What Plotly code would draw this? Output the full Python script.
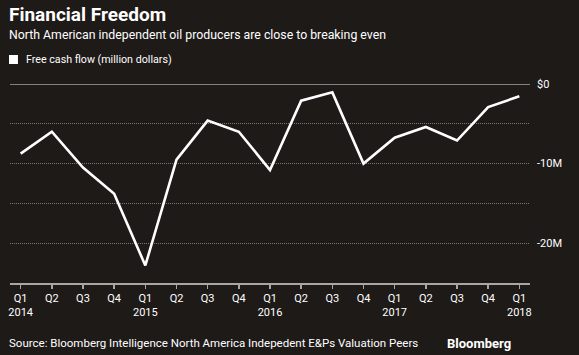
import plotly.graph_objects as go

quarters = ["Q1", "Q2", "Q3", "Q4", "Q1", "Q2", "Q3", "Q4", "Q1", "Q2", "Q3", "Q4",
            "Q1", "Q2", "Q3", "Q4", "Q1"]
years = ["2014", "", "", "", "2015", "", "", "", "2016", "", "", "", "2017", "", "", "", "2018"]
free_cash_flow = [-8.75, -6.0, -10.5, -13.8, -22.8, -9.5, -4.6, -6.0, -10.8,
                  -2.1, -1.05, -10.0, -6.75, -5.4, -7.1, -2.9, -1.55]
y_tick_vals = [0, -5, -10, -15, -20, -25]
y_tick_text = ["$0", "", "-10M", "", "-20M", ""]

x_idx = list(range(len(free_cash_flow)))
x_labels = [q + ("<br>" + y if y else "") for q, y in zip(quarters, years)]

BG = "#1e1a18"
FONT = "Roboto"
W, H = 579, 355
L, R, T, B = 8, 49, 84, 72
PW, PH = W - L - R, H - T - B

def px(x):
    return (x - L) / PW

def py(y):
    return (H - B - y) / PH

fig = go.Figure()
fig.add_trace(go.Scatter(
    x=x_idx, y=free_cash_flow, mode="lines",
    line=dict(color="#ffffff", width=2.6), showlegend=False, hoverinfo="skip"))

fig.add_shape(type="line", xref="paper", x0=0, x1=1, yref="y", y0=0, y1=0,
              line=dict(color="#a9a6a3", width=1.5), layer="below")
fig.add_shape(type="rect", xref="paper", yref="paper",
              x0=px(7), x1=px(16), y0=py(64), y1=py(55),
              fillcolor="#ffffff", line=dict(width=0))

annotations = [
    dict(text="<b>Financial Freedom</b>", x=px(5), y=py(14), xanchor="left", yanchor="middle",
         font=dict(size=19, color="#ffffff", family=FONT)),
    dict(text="North American independent oil producers are close to breaking even",
         x=px(5), y=py(35), xanchor="left", yanchor="middle",
         font=dict(size=12.3, color="#ffffff", family=FONT)),
    dict(text="Free cash flow (million dollars)", x=px(22), y=py(59.5), xanchor="left", yanchor="middle",
         font=dict(size=10.7, color="#ffffff", family=FONT)),
    dict(text="Source: Bloomberg Intelligence North America Indepedent E&Ps Valuation Peers",
         x=px(5), y=py(343), xanchor="left", yanchor="middle",
         font=dict(size=11.5, color="#ffffff", family=FONT)),
    dict(text="<b>Bloomberg</b>", x=px(513), y=py(343), xanchor="right", yanchor="middle",
         font=dict(size=13, color="#ffffff", family=FONT)),
]
for a in annotations:
    a.update(xref="paper", yref="paper", showarrow=False)

fig.update_layout(
    width=W, height=H, margin=dict(l=L, r=R, t=T, b=B),
    paper_bgcolor=BG, plot_bgcolor=BG,
    annotations=annotations,
    font=dict(family=FONT, color="#ffffff", size=11),
    xaxis=dict(
        range=[-0.342, 16.342], tickmode="array", tickvals=x_idx, ticktext=x_labels,
        showgrid=False, zeroline=False, showline=True, linecolor="#a9a6a3", linewidth=1.5,
        ticks="outside", ticklen=4, tickcolor="#a9a6a3", tickwidth=1.5,
        tickfont=dict(size=11, color="#ffffff", family=FONT), fixedrange=True,
    ),
    yaxis=dict(
        range=[-25, 0], side="right", tickmode="array", tickvals=y_tick_vals, ticktext=y_tick_text,
        showgrid=True, gridcolor="#7a7673", griddash="1px,1px", gridwidth=1,
        zeroline=False, showline=False, ticks="", ticklabelstandoff=6,
        tickfont=dict(size=11, color="#ffffff", family=FONT), fixedrange=True,
    ),
)

fig.write_html(
    "out.html",
    config={"displayModeBar": False, "staticPlot": True},
    post_script="document.body.style.margin='0';document.body.style.background='%s';" % BG,
)
